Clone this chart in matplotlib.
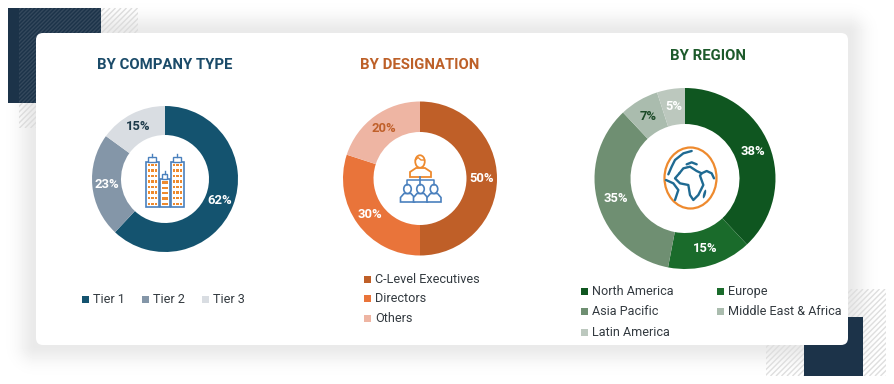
import numpy as np
import matplotlib
matplotlib.use("Agg")
import matplotlib.pyplot as plt
from matplotlib.patches import Rectangle, FancyBboxPatch, Polygon, Ellipse

plt.rcParams['font.family'] = ['Roboto', 'DejaVu Sans']

W, H = 895, 384

# ---------- data ----------
company_labels = ["Tier 1", "Tier 2", "Tier 3"]
company_values = [62, 23, 15]
company_colors = ["#14536f", "#8496a8", "#d9dde2"]
company_text = ["white", "white", "#1d3a4a"]

designation_labels = ["C-Level Executives", "Directors", "Others"]
designation_values = [50, 30, 20]
designation_colors = ["#bf5f28", "#e9743a", "#eeb5a3"]
designation_text = ["white", "white", "#c0602a"]

region_labels = ["North America", "Europe", "Asia Pacific", "Middle East & Africa", "Latin America"]
region_values = [38, 15, 35, 7, 5]
region_colors = ["#0f5620", "#1a6b2b", "#6f8f72", "#aabcae", "#bcc8be"]
region_text = ["white", "white", "white", "#1c4a28", "white"]

fig = plt.figure(figsize=(W / 100, H / 100), dpi=100, facecolor="white")
bg = fig.add_axes([0, 0, 1, 1])

# ---------- card shadow ----------
xx, yy = np.meshgrid(np.arange(W) + .5, np.arange(H) + .5)
dx = np.maximum(np.maximum(36 - xx, xx - 848), 0)
dy = np.maximum(np.maximum(33 - yy, yy - 345), 0)
d = np.hypot(dx, dy)
shade = 1 - 0.085 * np.exp(-(d / 17.0) ** 2)
bg.imshow(shade, cmap="gray", vmin=0, vmax=1, extent=(0, W, H, 0), aspect="auto", zorder=0)
bg.set_xlim(0, W)
bg.set_ylim(H, 0)
bg.axis("off")


def hatch(x0, y0, x1, y1, color, lw=1.0, step=5.5, z=2):
    clip = Rectangle((x0, y0), x1 - x0, y1 - y0, transform=bg.transData)
    h = y1 - y0
    for s in np.arange(x0 - 2, x1 + h + 2, step):
        line, = bg.plot([s, s - h], [y0, y1], color=color, lw=lw, zorder=z, solid_capstyle="butt")
        line.set_clip_path(clip)


# ---------- top-left decoration ----------
hatch(19, 103, 36, 128, "#dcdcdc")
hatch(101, 8, 138, 33, "#dcdcdc")
bg.add_patch(Rectangle((8, 8), 93, 95, fc="#1c3349", ec="none", zorder=3))
hatch(19, 8, 101, 103, "#34485c", lw=1.0, step=4.0, z=4)

# ---------- bottom-right decoration ----------
hatch(766, 289, 886, 376, "#dedede")
bg.add_patch(Rectangle((804, 317), 59, 59, fc="#1c3349", ec="none", zorder=3))

# ---------- card ----------
bg.add_patch(FancyBboxPatch((42, 39), 800, 300, boxstyle="round,pad=6,rounding_size=7",
                            fc="white", ec="none", zorder=5))


# ---------- donuts ----------
def donut(cx, cy, R, r, values, colors, text_colors):
    ax = fig.add_axes([(cx - R) / W, 1 - (cy + R) / H, 2 * R / W, 2 * R / H], zorder=3)
    wedges, _, autos = ax.pie(values, colors=colors, startangle=90, counterclock=False, radius=1,
                              wedgeprops=dict(width=1 - r / R, linewidth=0),
                              autopct="%d%%", pctdistance=(R + r) / (2 * R))
    for t, c, v in zip(autos, text_colors, values):
        t.set_text(f"{v}%")
        t.set_color(c)
        t.set_fontsize(9.4)
        t.set_fontweight("bold")
    ax.set_xlim(-1, 1)
    ax.set_ylim(-1, 1)
    ax.set_aspect("equal")
    ax.axis("off")
    ax.patch.set_alpha(0)


donut(165, 179, 73, 44, company_values, company_colors, company_text)
donut(420, 178.5, 77, 46.5, designation_values, designation_colors, designation_text)
donut(685, 178.5, 90.5, 54.5, region_values, region_colors, region_text)

# ---------- titles ----------
overlay = fig.add_axes([0, 0, 1, 1], zorder=6)
overlay.set_xlim(0, W)
overlay.set_ylim(H, 0)
overlay.axis("off")
overlay.patch.set_alpha(0)

for x, y, s, c in [(165, 65, "BY COMPANY TYPE", "#1b4b69"),
                   (420, 65, "BY DESIGNATION", "#bd6028"),
                   (708, 56, "BY REGION", "#1d5a2b")]:
    overlay.text(x, y, s, ha="center", va="center", fontsize=10.7, fontweight="bold", color=c)


# ---------- legends ----------
def legend(items):
    for x, y, s, c in items:
        overlay.add_patch(Rectangle((x - 3.5, y - 3.2), 7, 7, fc=c, ec="none"))
        overlay.text(x + 7, y + 0.3, s, ha="left", va="center", fontsize=9.1, color="#333a40")


legend([(86, 299, company_labels[0], company_colors[0]),
        (146, 299, company_labels[1], company_colors[1]),
        (206, 299, company_labels[2], company_colors[2])])
legend([(368, 279, designation_labels[0], designation_colors[0]),
        (368, 298.5, designation_labels[1], designation_colors[1]),
        (368, 318, designation_labels[2], designation_colors[2])])
legend([(585, 291, region_labels[0], region_colors[0]),
        (721, 291, region_labels[1], region_colors[1]),
        (585, 311.5, region_labels[2], region_colors[2]),
        (721, 311.5, region_labels[3], region_colors[3]),
        (585, 332.5, region_labels[4], region_colors[4])])

# ---------- icons ----------
BLUE = "#4a80bd"
ORANGE = "#ee8a2e"


def tower(x, y, w, h, rows, cols):
    overlay.add_patch(Rectangle((x, y), w, h, fc="white", ec=BLUE, lw=1.2))
    overlay.add_patch(Rectangle((x + 2.5, y - 5), w - 5, 5, fc="white", ec=BLUE, lw=1.0))
    overlay.plot([x + w / 2, x + w / 2], [y - 8, y - 5], color=BLUE, lw=1.0)
    xs = np.linspace(x + 1.8, x + w - 4.0, cols)
    ys = np.linspace(y + 2.2, y + h - 4.5, rows)
    for a in xs:
        for b in ys:
            overlay.add_patch(Rectangle((a, b), 2.2, 2.5, fc=ORANGE, ec="none"))


tower(146, 161.5, 13, 45.5, 8, 3)
tower(171, 161.5, 13, 45.5, 8, 3)
tower(160, 179, 10, 28, 5, 3)

# designation icon
overlay.add_patch(Ellipse((420, 161.5), 9.5, 12.5, fc="white", ec=ORANGE, lw=1.3))
overlay.plot([415.5, 418, 421, 424.5], [160, 157.5, 160, 160], color=ORANGE, lw=1.0)
overlay.add_patch(Polygon([[410, 177], [410, 172], [416, 168], [425, 168], [431, 172], [431, 177]],
                          closed=True, fc="white", ec=ORANGE, lw=1.3))
overlay.plot([420.5, 420.5], [177, 185], color=BLUE, lw=1.2)
overlay.plot([407, 407, 434, 434], [185, 180, 180, 185], color=BLUE, lw=1.1)
for cx in (407.5, 420.5, 434):
    overlay.add_patch(Polygon([[cx - 7, 202], [cx - 7, 197.5], [cx - 3.5, 193.5], [cx + 3.5, 193.5],
                               [cx + 7, 197.5], [cx + 7, 202]],
                              closed=True, fc="white", ec=BLUE, lw=1.2))
    overlay.add_patch(Ellipse((cx, 189), 7.5, 9, fc="white", ec=BLUE, lw=1.2))

# globe icon
overlay.add_patch(Ellipse((690.5, 178), 52, 61, fc="white", ec=ORANGE, lw=1.6))
GB = "#1f6a92"
zoom_paths = [
    [(305, 198), (280, 205), (255, 225), (245, 245), (235, 268)],
    [(228, 285), (250, 295), (265, 315), (255, 345)],
    [(268, 265), (280, 250), (300, 245), (320, 258), (335, 265), (350, 258), (365, 265), (372, 280)],
    [(268, 265), (255, 280), (270, 295), (295, 300), (300, 330), (310, 345), (325, 330), (340, 300),
     (330, 272), (335, 265)],
    [(290, 238), (305, 232), (320, 238)],
]
for p in zoom_paths:
    a = np.array(p) / 3.0 + np.array([590, 85])
    overlay.plot(a[:, 0], a[:, 1], color=GB, lw=1.7, solid_capstyle="round", solid_joinstyle="round")
overlay.add_patch(Ellipse((704.5, 194), 2.6, 9, angle=15, fc=GB, ec="none"))

fig.savefig("out.png", dpi=100)
